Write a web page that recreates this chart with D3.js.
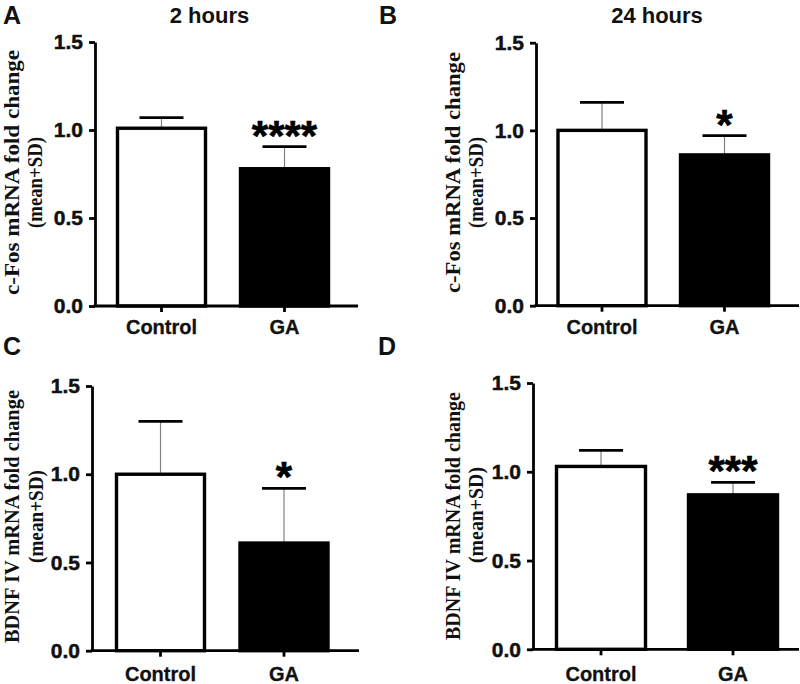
<!DOCTYPE html>
<html><head><meta charset="utf-8">
<script src="https://cdn.jsdelivr.net/npm/d3@7"></script>
<style>
html,body{margin:0;padding:0;background:#fff;}
svg{display:block;}
</style></head>
<body>
<svg id="chart" width="800" height="684"></svg>
<script>
// ---------- data ----------
const categories = ["Control", "GA"];
const panelLetters = ["A", "B", "C", "D"];
const panelTitles = ["2 hours", "24 hours", "", ""];
const yLabelLine1 = ["c-Fos mRNA  fold change", "c-Fos mRNA fold change", "BDNF IV mRNA  fold change", "BDNF IV mRNA fold change"];
const yLabelLine2 = ["(mean+SD)", "(mean+SD)", "(mean+SD)", "(mean+SD)"];
const yTicks = [0.0, 0.5, 1.0, 1.5];
const meansA = [1.01, 0.78];
const sdA = [0.06, 0.125];
const meansB = [1.00, 0.86];
const sdB = [0.16, 0.11];
const meansC = [1.00, 0.61];
const sdC = [0.30, 0.31];
const meansD = [1.03, 0.87];
const sdD = [0.09, 0.07];
const significance = ["****", "*", "*", "***"];
const barFills = ["#ffffff", "#000000"];

// ---------- layout ----------
const layout = [
  {axisX: 95, yB: 306, yT: 42, c: [161.5, 284.5], end: 358, bw: 88, xlab: 334,
   letter: [3, 23.5], title: [209.5, 22.5], l1: [18.5, 172.5, 245], l2: [41.5, 182.5, 91]},
  {axisX: 536, yB: 305.7, yT: 42.7, c: [602, 724.5], end: 799, bw: 88, xlab: 334,
   letter: [379, 23.5], title: [657, 23], l1: [460, 172.5, 241], l2: [483, 182.5, 91]},
  {axisX: 92, yB: 650.7, yT: 386, c: [160.5, 284], end: 359, bw: 88, xlab: 681,
   letter: [3, 355], title: [0, 0], l1: [18.5, 516.5, 253], l2: [42.5, 516.5, 93]},
  {axisX: 533, yB: 649.3, yT: 383, c: [601, 733], end: 799, bw: 89, xlab: 681,
   letter: [378, 355], title: [0, 0], l1: [460, 516, 248], l2: [483, 515, 96]}
];

const means = [meansA, meansB, meansC, meansD];
const sds = [sdA, sdB, sdC, sdD];

const svg = d3.select("#chart");
const sans = "'Liberation Sans', Arial, Helvetica, sans-serif";
const serif = "'Liberation Serif', 'Times New Roman', Times, serif";

layout.forEach((L, i) => {
  const g = svg.append("g");
  const y = d3.scaleLinear().domain([0, 1.5]).range([L.yB, L.yT]);
  const x = d3.scalePoint().domain(categories).range(L.c);
  const data = categories.map((c, j) => ({cat: c, m: means[i][j], sd: sds[i][j], fill: barFills[j]}));

  // error bars (stem then cap)
  g.selectAll(".stem").data(data).enter().append("line")
    .attr("x1", d => x(d.cat)).attr("x2", d => x(d.cat))
    .attr("y1", d => y(d.m)).attr("y2", d => y(d.m + d.sd))
    .attr("stroke", "#808080").attr("stroke-width", 1.2);
  g.selectAll(".cap").data(data).enter().append("line")
    .attr("x1", d => x(d.cat) - 22).attr("x2", d => x(d.cat) + 22)
    .attr("y1", d => y(d.m + d.sd)).attr("y2", d => y(d.m + d.sd))
    .attr("stroke", "#000").attr("stroke-width", 2.8);

  // bars
  g.selectAll(".bar").data(data).enter().append("rect")
    .attr("x", d => x(d.cat) - L.bw / 2).attr("width", L.bw)
    .attr("y", d => y(d.m)).attr("height", d => y(0) - y(d.m))
    .attr("fill", d => d.fill).attr("stroke", "#000").attr("stroke-width", 3.4);

  // y axis
  const ya = g.append("g").attr("transform", `translate(${L.axisX},0)`)
    .call(d3.axisLeft(y).tickValues(yTicks).tickFormat(d3.format(".1f")).tickSize(6).tickSizeOuter(0).tickPadding(6));
  ya.select(".domain").attr("stroke", "#000").attr("stroke-width", 2.8);
  ya.selectAll(".tick line").attr("stroke", "#000").attr("stroke-width", 2.8);
  ya.selectAll(".tick text").attr("font-family", sans).attr("font-weight", "bold")
    .attr("font-size", 21).attr("fill", "#111").attr("stroke", "#111").attr("stroke-width", 0.5);

  // x axis
  g.append("line").attr("x1", L.axisX - 1.4).attr("x2", L.end).attr("y1", y(0)).attr("y2", y(0))
    .attr("stroke", "#000").attr("stroke-width", 2.8);
  g.selectAll(".xt").data(categories).enter().append("line")
    .attr("x1", d => x(d)).attr("x2", d => x(d)).attr("y1", y(0)).attr("y2", y(0) + 6)
    .attr("stroke", "#000").attr("stroke-width", 2.8);
  g.selectAll(".xl").data(categories).enter().append("text")
    .attr("x", d => x(d)).attr("y", L.xlab).attr("text-anchor", "middle")
    .attr("font-family", sans).attr("font-weight", "bold").attr("font-size", 20).attr("fill", "#111")
    .attr("stroke", "#111").attr("stroke-width", 0.3)
    .text(d => d);

  // significance stars above GA cap
  const ga = data[1];
  g.append("text").attr("x", x(ga.cat)).attr("y", y(ga.m + ga.sd) - 11 + 14)
    .attr("text-anchor", "middle").attr("font-family", sans).attr("font-weight", "bold")
    .attr("font-size", 42).attr("fill", "#000").attr("stroke", "#000").attr("stroke-width", 0.6)
    .text(significance[i]);

  // panel letter
  g.append("text").attr("x", L.letter[0]).attr("y", L.letter[1])
    .attr("font-family", sans).attr("font-weight", "bold").attr("font-size", 25).attr("fill", "#111")
    .text(panelLetters[i]);

  // title
  if (panelTitles[i]) {
    g.append("text").attr("x", L.title[0]).attr("y", L.title[1]).attr("text-anchor", "middle")
      .attr("font-family", sans).attr("font-weight", "bold").attr("font-size", 22).attr("fill", "#111")
      .text(panelTitles[i]);
  }

  // y label (two lines, rotated)
  g.append("text").attr("transform", `translate(${L.l1[0]},${L.l1[1]}) rotate(-90)`)
    .attr("text-anchor", "middle").attr("font-family", serif).attr("font-weight", "bold")
    .attr("font-size", 21).attr("fill", "#111")
    .attr("textLength", L.l1[2]).attr("lengthAdjust", "spacingAndGlyphs")
    .text(yLabelLine1[i]);
  g.append("text").attr("transform", `translate(${L.l2[0]},${L.l2[1]}) rotate(-90)`)
    .attr("text-anchor", "middle").attr("font-family", serif).attr("font-weight", "bold")
    .attr("font-size", 21).attr("fill", "#111")
    .attr("textLength", L.l2[2]).attr("lengthAdjust", "spacingAndGlyphs")
    .text(yLabelLine2[i]);
});
</script>
</body></html>
